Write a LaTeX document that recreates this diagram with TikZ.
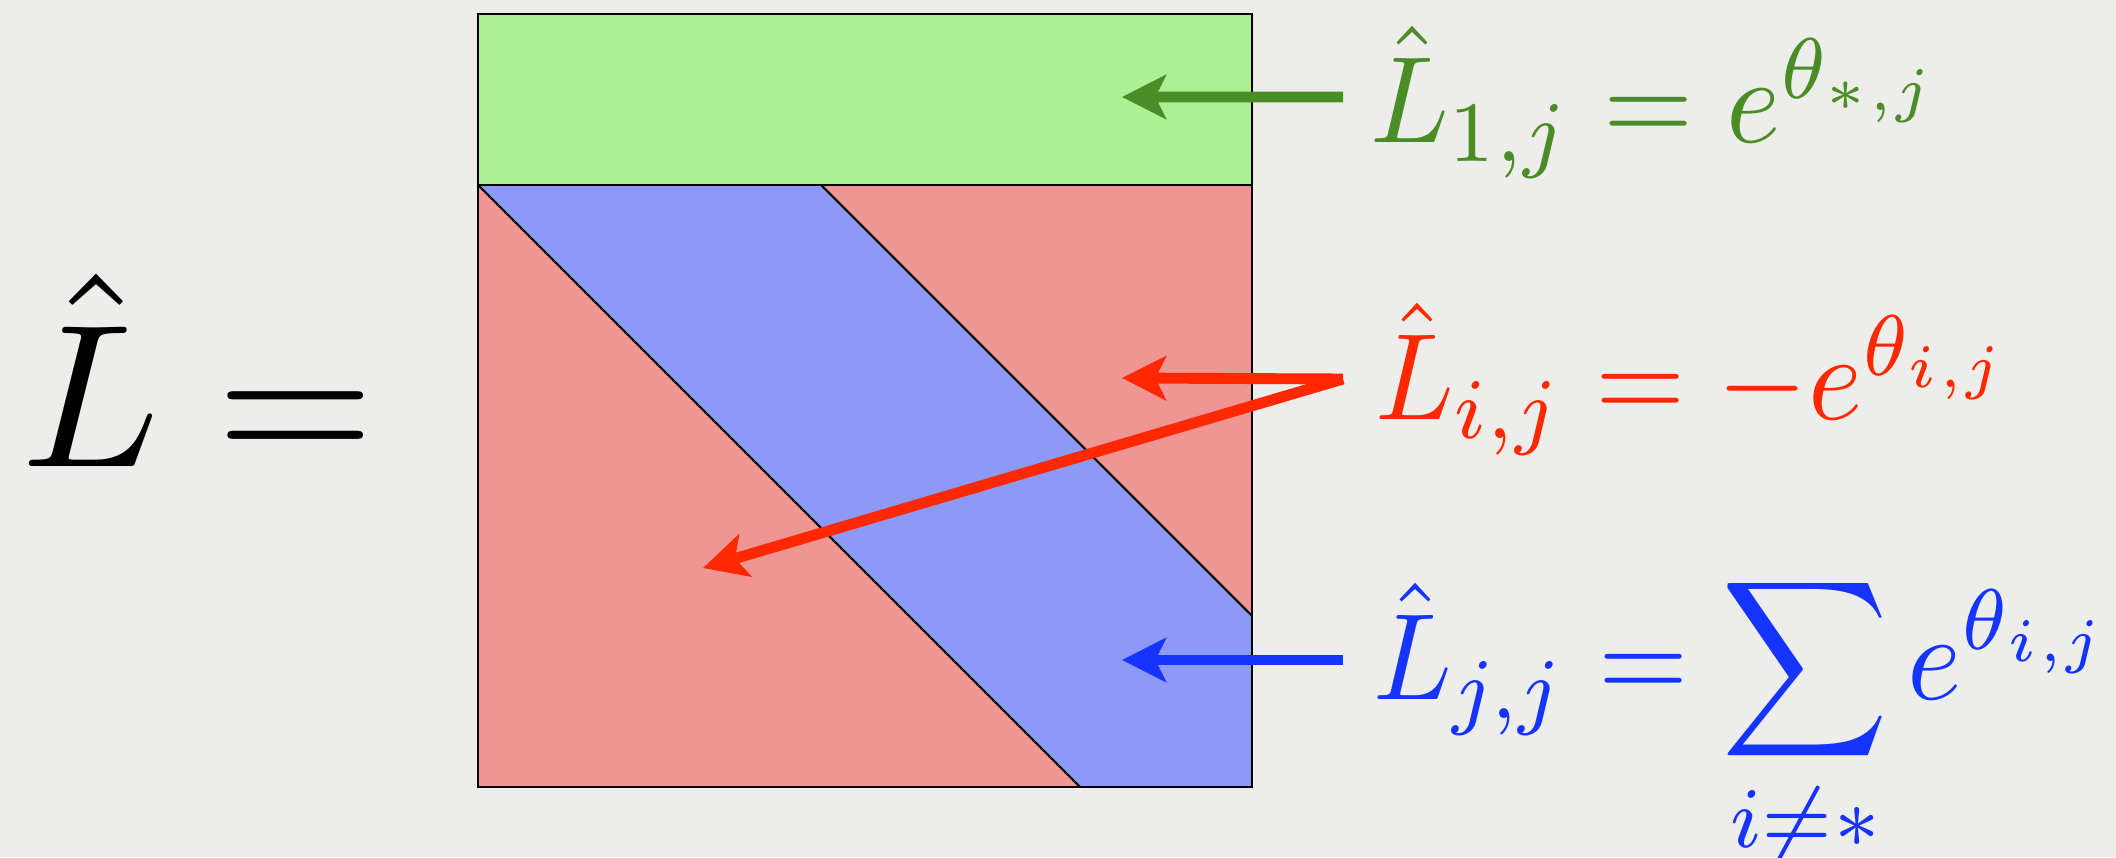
\RequirePackage{fix-cm}
\documentclass[tikz,border=0pt]{standalone}
\usepackage{amsmath,amssymb,graphicx}
\usepackage{tikz}
\usetikzlibrary{positioning}
\usetikzlibrary{arrows.meta}
\definecolor{bgcol}{RGB}{237,238,235}
\definecolor{gfill}{RGB}{171,240,149}
\definecolor{bfill}{RGB}{141,153,247}
\definecolor{rfill}{RGB}{239,150,148}
\definecolor{gink}{RGB}{74,140,38}
\definecolor{rink}{RGB}{255,40,0}
\definecolor{bink}{RGB}{22,52,255}
\tikzset{>={Stealth[length=12.5pt,width=12.5pt,inset=3pt]}}
\tikzset{eqn/.style={inner sep=0pt, outer sep=0pt, anchor=base west},
  ptr/.style={->, line width=3.1pt}}
\newcommand{\bigmath}[1]{\scalebox{3.3}[3.5]{$#1$}}

\begin{document}
\begin{tikzpicture}
\useasboundingbox[fill=bgcol] (0,0) rectangle (21.16,8.57);
% the matrix
\fill[rfill] (4.78,0.70) rectangle (12.52,6.72);
\fill[bfill] (4.78,6.72) -- (8.21,6.72) -- (12.52,2.41) -- (12.52,0.70) -- (10.80,0.70) -- cycle;
\fill[gfill] (4.78,6.72) rectangle (12.52,8.43);
\draw[line width=.6pt] (4.78,6.72) -- (10.80,0.70);
\draw[line width=.6pt] (8.21,6.72) -- (12.52,2.41);
\draw[line width=.8pt] (4.78,6.72) -- (12.52,6.72);
\draw[line width=.8pt] (4.78,0.70) rectangle (12.52,8.43);
% labels
\node[eqn] (lhs) at (0.21,3.90) {\scalebox{5.8}{$\hat{L} =$}};
\node[eqn, text=gink] (first) at (13.70,7.14) {\bigmath{\hat{L}_{1,j} = e^{\theta_{*,j}}}};
\node[eqn, text=rink] (offd) at (13.75,4.37) {\bigmath{\hat{L}_{i,j} = -e^{\theta_{i,j}}}};
\node[eqn, text=bink] (diag) at (13.73,1.57) {\bigmath{\hat{L}_{j,j} = \displaystyle\sum_{i\neq *} e^{\theta_{i,j}}}};
\coordinate (gtip) at (11.22,7.60);
\coordinate (rtip) at (11.22,4.79);
\coordinate (rtip2) at (7.03,2.89);
\coordinate (btip) at (11.22,1.97);
\draw[ptr, gink] ([shift={(-0.27,0.46)}]first.base west) -- (gtip);
\draw[ptr, rink] ([shift={(-0.32,0.41)}]offd.base west) -- (rtip);
\draw[ptr, rink] ([shift={(-0.32,0.41)}]offd.base west) -- (rtip2);
\draw[ptr, bink] ([shift={(-0.30,0.40)}]diag.base west) -- (btip);
\end{tikzpicture}
\end{document}
